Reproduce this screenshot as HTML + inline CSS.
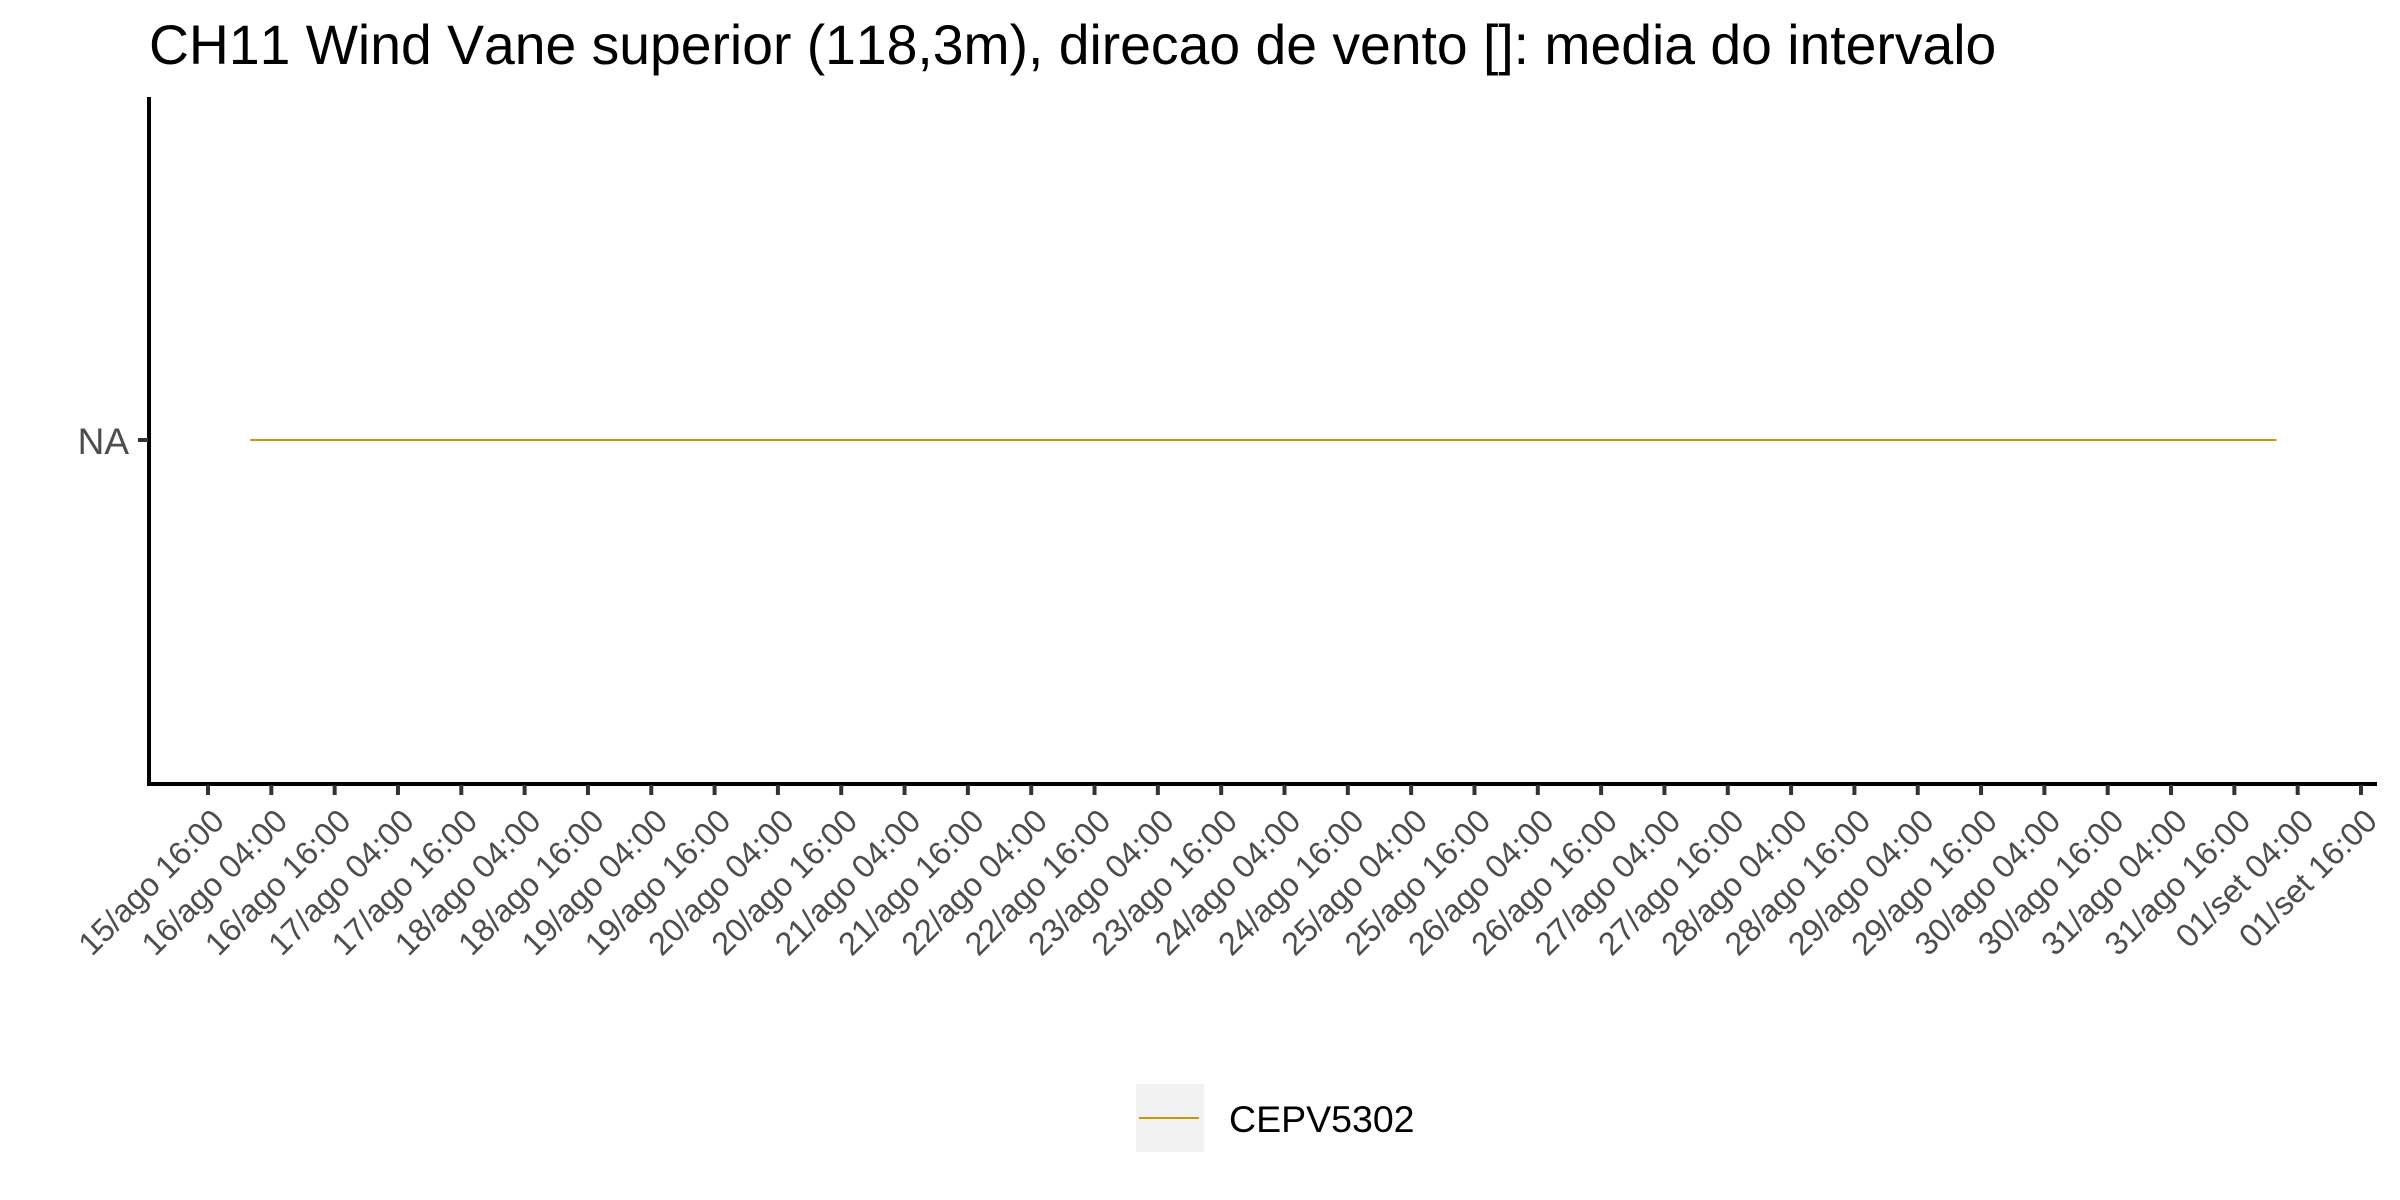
<!DOCTYPE html>
<html lang="pt">
<head>
<meta charset="utf-8">
<title>CH11 Wind Vane superior</title>
<style>
  html, body { margin: 0; padding: 0; background: #fff; }
  svg { display: block; font-family: "Liberation Sans", Arial, sans-serif; font-kerning: none; }
</style>
</head>
<body>
<svg id="chart" width="2400" height="1200" viewBox="0 0 2400 1200" xmlns="http://www.w3.org/2000/svg">
  <rect x="0" y="0" width="2400" height="1200" fill="#ffffff"/>
  <text x="149" y="64" font-size="55.3" fill="#000000">CH11 Wind Vane superior (118,3m), direcao de vento []: media do intervalo</text>
  <g id="marks"></g>
  <line x1="149" y1="97" x2="149" y2="786" stroke="#000000" stroke-width="4"/>
  <line x1="147" y1="784" x2="2377" y2="784" stroke="#000000" stroke-width="4"/>
  <g id="x-axis"></g>
  <g id="y-axis"></g>
  <g>
    <rect x="1136" y="1084" width="68" height="68" fill="#F2F2F2"/>
    <line id="legend-swatch" x1="1139" y1="1118" x2="1199" y2="1118" stroke="#C49A00" stroke-width="2"/>
    <text x="1229" y="1132" font-size="37.5" fill="#000000">CEPV5302</text>
  </g>
</svg>
<script>
// Chart data
const xTickLabels = [
  "15/ago 16:00","16/ago 04:00","16/ago 16:00","17/ago 04:00","17/ago 16:00",
  "18/ago 04:00","18/ago 16:00","19/ago 04:00","19/ago 16:00","20/ago 04:00",
  "20/ago 16:00","21/ago 04:00","21/ago 16:00","22/ago 04:00","22/ago 16:00",
  "23/ago 04:00","23/ago 16:00","24/ago 04:00","24/ago 16:00","25/ago 04:00",
  "25/ago 16:00","26/ago 04:00","26/ago 16:00","27/ago 04:00","27/ago 16:00",
  "28/ago 04:00","28/ago 16:00","29/ago 04:00","29/ago 16:00","30/ago 04:00",
  "30/ago 16:00","31/ago 04:00","31/ago 16:00","01/set 04:00","01/set 16:00"
];
const xTickHours = [
  0,12,24,36,48,60,72,84,96,108,120,132,144,156,168,180,192,204,216,228,
  240,252,264,276,288,300,312,324,336,348,360,372,384,396,408
];
const yTickLabels = ["NA"];
const yTickValues = [0];
const seriesName = "CEPV5302";
const seriesHours = [8, 392];   // hours since 15/ago 16:00
const seriesValues = [0, 0];    // all readings are NA, drawn on the single NA level

// Axis functions
const xScale = h => 208 + h * (2361 - 208) / 408;
const yScale = v => 440 - v * 343;

const NS = "http://www.w3.org/2000/svg";
const xAxis = document.getElementById("x-axis");
const yAxis = document.getElementById("y-axis");
const marks = document.getElementById("marks");

xTickHours.forEach((h, i) => {
  const x = xScale(h);
  const tick = document.createElementNS(NS, "line");
  
  
  tick.setAttribute("x1", x);
  tick.setAttribute("x2", x);
  tick.setAttribute("y1", 785);
  tick.setAttribute("y2", 795);
  tick.setAttribute("stroke", "#333333");
  tick.setAttribute("stroke-width", 4);
  xAxis.appendChild(tick);

  const label = document.createElementNS(NS, "text");
  
  
  const lx = x + 18;
  const ly = 823;
  label.setAttribute("x", lx);
  label.setAttribute("y", ly);
  label.setAttribute("text-anchor", "end");
  label.setAttribute("font-size", 32.5);
  label.setAttribute("fill", "#4D4D4D");
  label.setAttribute("transform", "rotate(-45 " + lx + " " + ly + ")");
  label.textContent = xTickLabels[i];
  xAxis.appendChild(label);
});

yTickValues.forEach((v, i) => {
  const y = yScale(v);
  const tick = document.createElementNS(NS, "line");
  
  
  tick.setAttribute("x1", 138);
  tick.setAttribute("x2", 148);
  tick.setAttribute("y1", y);
  tick.setAttribute("y2", y);
  tick.setAttribute("stroke", "#333333");
  tick.setAttribute("stroke-width", 4);
  yAxis.appendChild(tick);

  const label = document.createElementNS(NS, "text");
  
  
  label.setAttribute("x", 129);
  label.setAttribute("y", y + 14);
  label.setAttribute("text-anchor", "end");
  label.setAttribute("font-size", 37);
  label.setAttribute("fill", "#4D4D4D");
  label.textContent = yTickLabels[i];
  yAxis.appendChild(label);
});

const path = document.createElementNS(NS, "path");


path.setAttribute("d", seriesHours.map((h, i) => (i ? "L" : "M") + xScale(h) + " " + yScale(seriesValues[i])).join(" "));
path.setAttribute("fill", "none");
path.setAttribute("stroke", "#C49A00");
path.setAttribute("stroke-width", 2);
marks.appendChild(path);
</script>
</body>
</html>
